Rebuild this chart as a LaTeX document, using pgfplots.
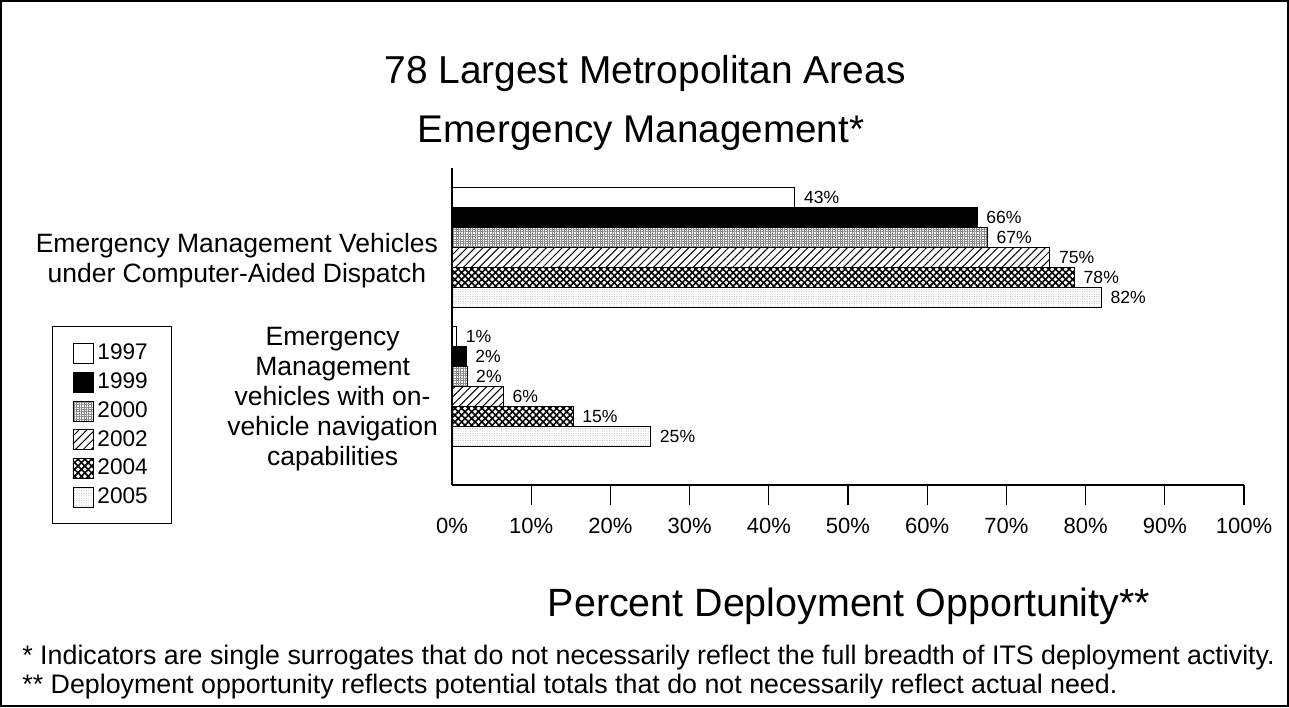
\documentclass[border=0pt]{standalone}
\usepackage{fontspec}
\setmainfont{Liberation Sans}
\usepackage{pgfplots}
\pgfplotsset{compat=1.18}
\usetikzlibrary{patterns,patterns.meta}

\begin{document}
\begin{tikzpicture}
\useasboundingbox (0,0) rectangle (644.5pt,353.5pt);
\draw[line width=1.2pt] (0.6pt,0.6pt) rectangle (643.9pt,352.9pt);
\node[font=\fontsize{19.45}{22}\selectfont] at (322.5pt,317pt) {78 Largest Metropolitan Areas};
\node[font=\fontsize{19.3}{22}\selectfont] at (320.5pt,287pt) {Emergency Management*};
\node[font=\fontsize{19.7}{22}\selectfont] at (424.5pt,50.5pt) {Percent Deployment Opportunity**};
\node[anchor=west, font=\fontsize{13.4}{15}\selectfont, inner sep=0pt] at (11pt,24.5pt) {* Indicators are single surrogates that do not necessarily reflect the full breadth of ITS deployment activity.};
\node[anchor=west, font=\fontsize{13.4}{15}\selectfont, inner sep=0pt] at (11pt,10pt) {** Deployment opportunity reflects potential totals that do not necessarily reflect actual need.};
\begin{axis}[
  at={(226pt,111pt)}, anchor=south west,
  scale only axis, width=396pt, height=158.5pt,
  xbar, bar width=10pt,
  xmin=0, xmax=100, ymin=-0.709, ymax=1.572,
  axis x line*=bottom, axis y line*=left,
  axis line style={-, line width=0.6pt},
  /pgf/number format/assume math mode=true,
  xtick={10,20,...,100},
  extra x ticks={0},
  extra x tick style={major tick length=0pt, xticklabel style={yshift=-10pt}},
  xticklabel={\pgfmathprintnumber{\tick}\%},
  extra x tick labels={0\%},
  tick align=outside,
  major tick length=10pt,
  x tick style={black, line width=0.6pt},
  xticklabel style={font=\fontsize{11}{12}\selectfont, anchor=center, yshift=-10.5pt},
  ytick={0,1},
  yticklabels={{Emergency\\Management\\vehicles with on-\\vehicle navigation\\capabilities},{Emergency Management Vehicles\\under Computer-Aided Dispatch}},
  y tick style={draw=none},
  yticklabel style={font=\fontsize{13.25}{15}\selectfont, align=center, yshift=-6.5pt, xshift=6.5pt},
  point meta=explicit symbolic,
  nodes near coords={\pgfplotspointmeta\%},
  nodes near coords style={font=\fontsize{8.8}{10}\selectfont, anchor=west, xshift=1pt},
  every axis plot/.append style={draw=black, line width=0.5pt},
  legend image code/.code={\draw[#1, line width=0.45pt] (0pt,-5pt) rectangle (10pt,5pt);},
  legend style={at={(-0.505,0.5)}, anchor=north west, draw=black, line width=0.5pt,
    font=\fontsize{11.3}{12}\selectfont, row sep=0pt,
    nodes={minimum height=14.4pt, inner ysep=0pt},
    inner xsep=10pt, inner ysep=6pt},
  legend cell align=left,
]
\addplot[fill=white, bar shift=25pt] coordinates {(43.3,1) [43] (0.6,0) [1]};
\addplot[fill=black, bar shift=15pt] coordinates {(66.3,1) [66] (1.8,0) [2]};
\addplot[pattern={Hatch[angle=0,distance=1.2pt,line width=0.4pt]}, pattern color=gray!90, bar shift=5pt] coordinates {(67.6,1) [67] (1.9,0) [2]};
\addplot[pattern={Lines[angle=45,distance=2.8pt,line width=0.5pt]}, pattern color=black, bar shift=-5pt] coordinates {(75.5,1) [75] (6.5,0) [6]};
\addplot[pattern={Hatch[angle=45,distance=2.4pt,line width=0.8pt]}, pattern color=black, bar shift=-15pt] coordinates {(78.6,1) [78] (15.3,0) [15]};
\addplot[pattern={Dots[distance=1.2pt,radius=0.22pt]}, pattern color=gray!80, bar shift=-25pt] coordinates {(82.0,1) [82] (25.1,0) [25]};
\legend{1997,1999,2000,2002,2004,2005}
\end{axis}
\end{tikzpicture}
\end{document}
